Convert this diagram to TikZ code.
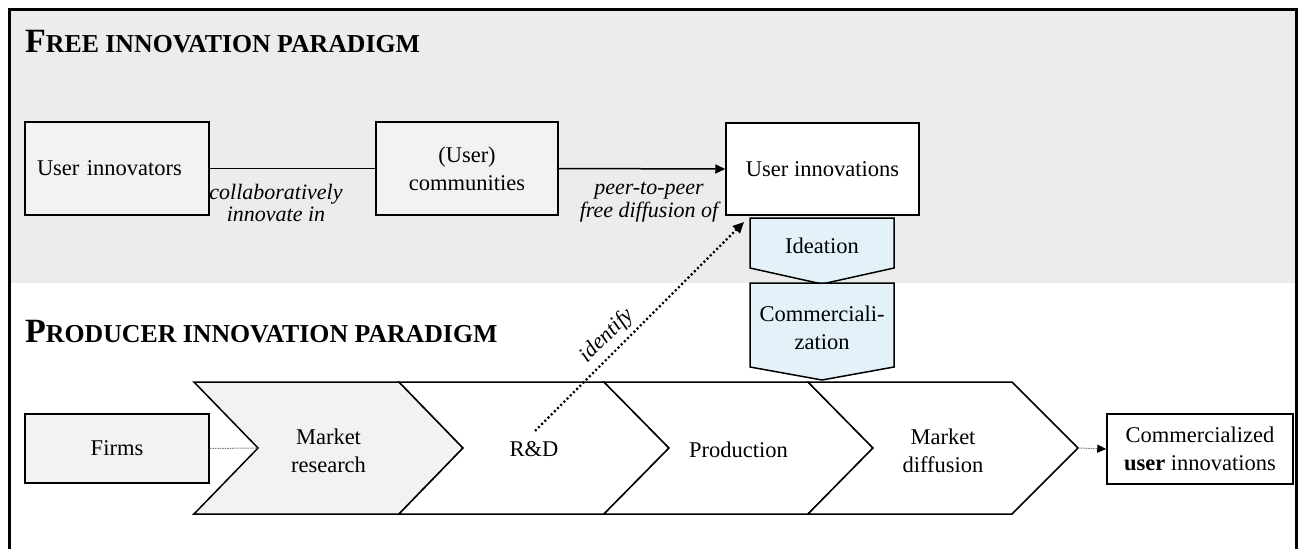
\documentclass[tikz,border=0pt]{standalone}
\usepackage{fontspec}
\setmainfont{Liberation Serif}
\usetikzlibrary{arrows.meta}
\definecolor{bandgray}{HTML}{ECECEC}
\definecolor{boxgray}{HTML}{F2F2F2}
\definecolor{lightblue}{HTML}{E3F2F9}
\newcommand{\bodyfont}{\fontsize{22.5}{28}\selectfont}
\newcommand{\lblfont}{\fontsize{22}{22.5}\selectfont\itshape}
\newcommand{\titlesc}[2]{\textbf{{\fontsize{34}{40}\selectfont #1}{\fontsize{25.8}{30}\selectfont #2}}}
\begin{document}
\begin{tikzpicture}[x=1pt,y=-1pt,
 box/.style={draw=black,line width=1.5pt,inner sep=0pt,font=\bodyfont,align=center},
 chev/.style={draw=black,line width=1.5pt,line join=miter},
 lbl/.style={font=\lblfont,align=center,inner sep=0pt},
 txt/.style={font=\bodyfont,align=center,inner sep=0pt},
 solidarrow/.style={line width=1.5pt,-{Triangle[length=10pt,width=9pt]}},
 thindot/.style={draw=gray,line width=1pt,dash pattern=on 1.5pt off 1pt},
 bigdot/.style={line width=2.2pt,dash pattern=on 2pt off 2.5pt,-{Triangle[length=11pt,width=10pt]}},
]
\useasboundingbox (0,0) rectangle (1301,549);
\fill[bandgray] (9,9) rectangle (1296,283);
\draw[line width=3pt] (9,549) -- (9,9) -- (1296,9) -- (1296,549);

% titles
\node[anchor=base west,inner sep=0pt] (t1) at (25,52) {\titlesc{F}{REE INNOVATION PARADIGM}};
\node[anchor=base west,inner sep=0pt] (t2) at (25,342) {\titlesc{P}{RODUCER INNOVATION PARADIGM}};

% free innovation boxes
\node[box,fill=boxgray,minimum width=184pt,minimum height=93pt,text width=160pt,align=left] (ui) at (117,168.5) {User innovators};
\node[box,fill=boxgray,minimum width=182pt,minimum height=93pt] (uc) at (467,168.5) {(User)\\communities};
\node[box,fill=white,minimum width=193pt,minimum height=92pt] (uinn) at (822.5,169) {User innovations};

\draw[line width=1.5pt] (ui.east) -- (uc.west);
\draw[solidarrow] (uc.east) -- (uinn.west);
\node[lbl] (l1) at (276,203) {collaboratively\\innovate in};
\node[lbl] (l2) at (649,202) {peer-to-peer\\free diffusion of};

% pentagons
\draw[chev,fill=lightblue] (750,218) -- (894,218) -- (894,268) -- (822,284) -- (750,268) -- cycle;
\node[txt] (idea) at (822,246) {Ideation};
\draw[chev,fill=lightblue] (750,283) -- (894,283) -- (894,367) -- (822,380) -- (750,367) -- cycle;
\node[txt] (comm) at (822,328) {Commerciali-\\zation};

% chevrons
\draw[chev,fill=boxgray] (194,382) -- (399,382) -- (463,448) -- (399,514) -- (194,514) -- (258,448) -- cycle;
\draw[chev,fill=white] (399,382) -- (604,382) -- (669,448) -- (604,514) -- (399,514) -- (463,448) -- cycle;
\draw[chev,fill=white] (604,382) -- (808,382) -- (873,448) -- (808,514) -- (604,514) -- (669,448) -- cycle;
\draw[chev,fill=white] (808,382) -- (1012,382) -- (1078,448) -- (1012,514) -- (808,514) -- (873,448) -- cycle;
\coordinate (mrnotch) at (258,448);
\coordinate (mdtip) at (1078,448);
\node[txt] (mr) at (328.5,451) {Market\\research};
\node[txt] (rd) at (534,449.5) {R\&D};
\node[txt] (pr) at (738.5,449.5) {Production};
\node[txt] (md) at (943,451) {Market\\diffusion};

% producer side boxes
\node[box,fill=boxgray,minimum width=184pt,minimum height=69pt] (firms) at (117,448.5) {Firms};
\node[box,fill=white,minimum width=186pt,minimum height=70pt] (cui) at (1200,449) {Commercialized\\\textbf{user} innovations};

\draw[thindot] (firms.east) -- (mrnotch);
\draw[thindot,-{Triangle[length=9pt,width=8pt,color=black]}] (mdtip) -- (cui.west);

% identify arrow
\coordinate (idA) at (535,431);
\coordinate (idB) at (744,222);
\draw[bigdot] (idA) -- (idB) node[pos=0.4,sloped,above=5pt,lbl] (idl) {identify};
\end{tikzpicture}
\end{document}
